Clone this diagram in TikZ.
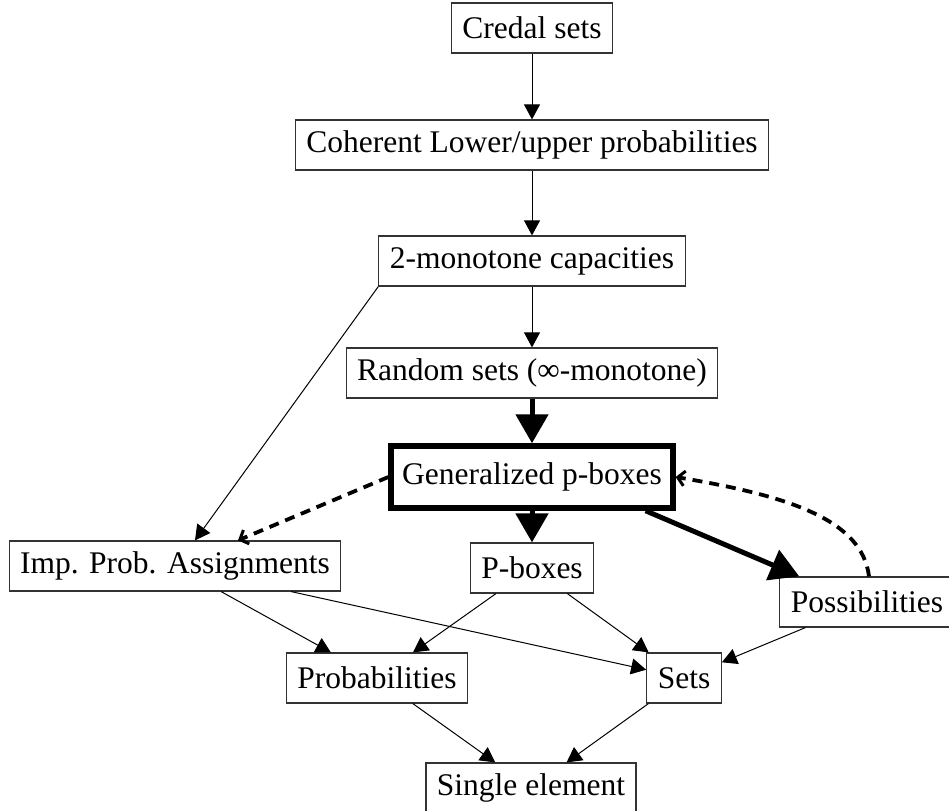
\documentclass[tikz,border=0pt]{standalone}
\usepackage{fontspec}
\setmainfont{Liberation Serif}
\usetikzlibrary{arrows.meta,calc}
\begin{document}
\begin{tikzpicture}[x=1pt,y=-1pt,
  box/.style={draw=black!80, line width=1.2pt, inner xsep=11pt, inner ysep=0pt,
    minimum height=50pt, font=\fontsize{31.5}{36}\selectfont, fill=white},
  thinarr/.style={line width=1pt, -{Triangle[length=15pt,width=16pt]}},
  thickarr/.style={line width=5pt, -{Triangle[length=29pt,width=32pt]}},
  dasharr/.style={line width=3.8pt, dash pattern=on 10pt off 7pt,
    -{Straight Barb[length=7pt,width=15pt,line width=3pt]}}]
\useasboundingbox (0,0) rectangle (949,810);
\node[box] (cred) at (532,28) {Credal sets};
\node[box] (coh) at (532,145) {Coherent Lower/upper probabilities};
\node[box] (mono) at (532,261) {2-monotone capacities};
\node[box] (rand) at (532,373) {Random sets (∞-monotone)};
\node[box, draw=black, line width=5.5pt, minimum height=62pt] (gen) at (532,477) {Generalized p-boxes};
\node[box] (imp) at (175,566) {Imp. Prob. Assignments};
\node[box] (pbox) at (532,568) {P-boxes};
\node[box] (poss) at (867,602) {Possibilities};
\node[box] (prob) at (377,678) {Probabilities};
\node[box] (sets) at (684,678) {Sets};
\node[box] (single) at (531,788) {Single element};

\draw[thinarr] (cred) -- (coh);
\draw[thinarr] (coh) -- (mono);
\draw[thinarr] (mono) -- (rand);
\draw[thinarr] (mono.south west) -- ($(imp.north)+(20,0)$);
\draw[thickarr] (rand) -- (gen);
\draw[thickarr] (gen) -- (pbox);
\draw[thickarr] ($(gen.south east)+(-30,0)$) -- ($(poss.north west)+(20,0)$);
\draw[dasharr] (gen.west) -- ($(imp.north)+(63,0)$);
\draw[dasharr] ($(poss.north)+(2,0)$) .. controls (862,520) and (790,496) .. (gen.east);
\draw[thinarr] (imp) -- (prob);
\draw[thinarr] (imp) -- (sets);
\draw[thinarr] (pbox) -- (prob);
\draw[thinarr] (pbox) -- (sets);
\draw[thinarr] (poss) -- (sets);
\draw[thinarr] (prob) -- (single);
\draw[thinarr] (sets) -- (single);
\end{tikzpicture}
\end{document}
